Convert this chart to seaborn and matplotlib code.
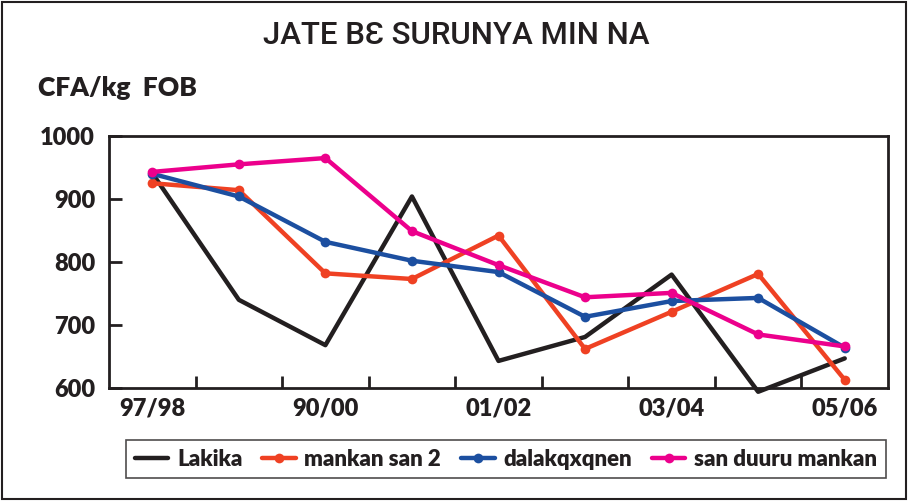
import matplotlib
matplotlib.use("Agg")
import matplotlib.pyplot as plt
import seaborn as sns
import pandas as pd
from matplotlib.patches import Rectangle

seasons = ["97/98", "98/99", "99/00", "00/01", "01/02", "02/03", "03/04", "04/05", "05/06"]
tick_labels = ["97/98", "", "90/00", "", "01/02", "", "03/04", "", "05/06"]
lakika = [941, 740, 668, 904, 643, 681, 780, 594, 647]
mankan_san_2 = [925, 914, 782, 773, 842, 662, 721, 781, 613]
dalakqxqnen = [940, 904, 832, 802, 784, 713, 738, 743, 664]
san_duuru_mankan = [943, 955, 965, 849, 795, 744, 751, 685, 666]

series_names = ["Lakika", "mankan san 2", "dalakqxqnen", "san duuru mankan"]
series_vals = [lakika, mankan_san_2, dalakqxqnen, san_duuru_mankan]
colors = ["#231f20", "#ef4123", "#1c4fa0", "#ec008c"]
markers = [None, "o", "o", "o"]

sns.set_theme(style="white")
plt.rcParams["font.family"] = ["Lato", "DejaVu Sans"]

fig = plt.figure(figsize=(9.09, 5.01), dpi=100)
ax = fig.add_axes([109/909, 1-388/501, (888-109)/909, (388-136)/501])

for name, vals, c, m in zip(series_names, series_vals, colors, markers):
    df = pd.DataFrame({"x": range(len(seasons)), "y": vals})
    sns.lineplot(data=df, x="x", y="y", ax=ax, color=c, linewidth=3.2,
                 marker=m, markersize=7, markeredgewidth=0, label=name)
for ln in ax.get_lines():
    ln.set_clip_on(False)

ax.set_xlim(-0.5, len(seasons) - 0.5)
ax.set_ylim(600, 1000)
ax.set_yticks([600, 700, 800, 900, 1000])
ax.set_yticklabels(["600", "700", "800", "900", "1000"], fontsize=17, fontweight="heavy", color="#231f20")
ax.set_xticks(range(len(seasons)))
ax.set_xticklabels(tick_labels, fontsize=17, fontweight="heavy", color="#231f20")
ax.tick_params(axis="x", which="major", length=0, pad=7)
ax.set_xticks([i + 0.5 for i in range(len(seasons) - 1)], minor=True)
ax.tick_params(axis="x", which="minor", direction="in", length=9, width=2, color="#231f20", bottom=True)
ax.tick_params(axis="y", which="major", direction="in", length=9, width=2, color="#231f20", left=True, pad=10)
ax.set_xlabel("")
ax.set_ylabel("")
for s in ax.spines.values():
    s.set_color("#231f20")
    s.set_linewidth(2)

ax.get_legend().remove()
handles, labels = ax.get_legend_handles_labels()
leg = fig.legend(handles, labels, loc="center", bbox_to_anchor=(506/909, 1-459/501), ncol=4,
                 frameon=True, fancybox=False, edgecolor="#231f20",
                 prop={"weight": "heavy", "size": 16}, handlelength=1.5, handletextpad=0.4,
                 columnspacing=0.9, borderpad=0.4)
leg.get_frame().set_linewidth(1.2)
for t in leg.get_texts():
    t.set_color("#231f20")

fig.text(456/909, 1-36/501, "JATE BƐ SURUNYA MIN NA", ha="center", va="center",
         fontsize=22.5, family=["Roboto", "DejaVu Sans"], fontweight="medium", color="#231f20")
fig.text(38/909, 1-88/501, "CFA/kg  FOB", ha="left", va="center",
         fontsize=19, fontweight="heavy", color="#231f20")

fig.patches.append(Rectangle((0.002, 0.003), 0.995, 0.993, transform=fig.transFigure,
                             fill=False, edgecolor="#231f20", linewidth=1.5))

fig.savefig("out.png", dpi=100, facecolor="white")
